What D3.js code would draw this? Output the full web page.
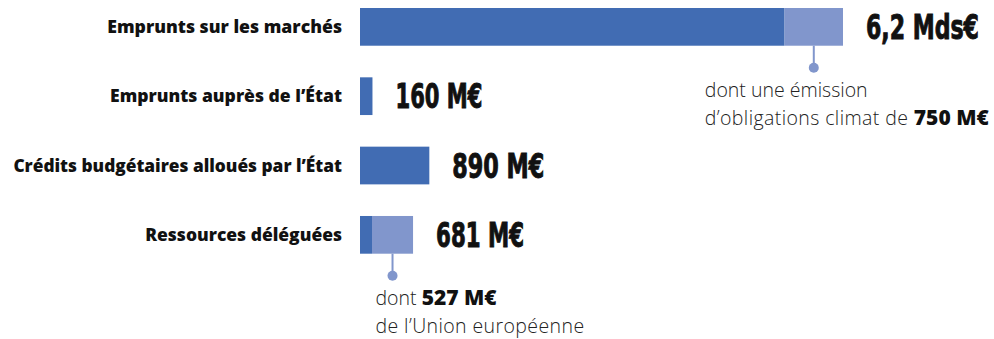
<!DOCTYPE html>
<html>
<head>
<meta charset="utf-8">
<script src="https://cdn.jsdelivr.net/npm/d3@7"></script>
<style>
  html, body { margin: 0; padding: 0; background: #ffffff; }
  svg { display: block; }
</style>
</head>
<body>
<div id="chart"></div>
<script>
// ---- Data ----
const categories = [
  "Emprunts sur les marchés",
  "Emprunts auprès de l’État",
  "Crédits budgétaires alloués par l’État",
  "Ressources déléguées"
];
const totals = [6200, 160, 890, 681];          // M€
const highlighted = [750, 0, 0, 527];          // part highlighted (M€)
const valueLabels = ["6,2 Mds€", "160 M€", "890 M€", "681 M€"];
const noteRows = [0, 3];
const notePrefix = [["dont une émission", "d’obligations climat de "], ["dont ", ""]];
const noteBold = ["750 M€", "527 M€"];
const noteSuffix = [["", ""], ["", "de l’Union européenne"]];

// ---- Layout ----
const W = 994, H = 339;
const dark = "#416cb3", light = "#8196cc";
const catLabelWidth = [235, 232, 329, 197];   // rendered widths of the original typeface
const valLabelWidth = [113, 87, 92, 88];

const svg = d3.select("#chart").append("svg")
  .attr("width", W).attr("height", H);

const x = d3.scaleLinear().domain([0, 6200]).range([360, 843]);
const y = d3.scaleBand().domain(categories).range([8, 253.7])
  .paddingInner(0.456).paddingOuter(0);

const rows = categories.map((c, i) => ({
  cat: c, total: totals[i], hi: highlighted[i], label: valueLabels[i], i
}));

// dark part
svg.append("g").selectAll("rect.dark").data(rows).join("rect")
  .attr("class", "dark")
  .attr("x", x(0))
  .attr("y", d => y(d.cat))
  .attr("width", d => x(d.total - d.hi) - x(0))
  .attr("height", y.bandwidth())
  .attr("fill", dark);

// light (highlighted) part
svg.append("g").selectAll("rect.light").data(rows.filter(d => d.hi > 0)).join("rect")
  .attr("class", "light")
  .attr("x", d => x(d.total - d.hi))
  .attr("y", d => y(d.cat))
  .attr("width", d => x(d.total) - x(d.total - d.hi))
  .attr("height", y.bandwidth())
  .attr("fill", light);

// category labels (condensed to the original widths)
svg.append("g").selectAll("text").data(rows).join("text")
  .attr("text-anchor", "end")
  .attr("font-family", "'Open Sans', sans-serif")
  .attr("font-weight", 800)
  .attr("font-size", 17.5)
  .attr("fill", "#111")
  .text(d => d.cat)
  .each(function(d) {
    const len = this.getComputedTextLength();
    const sx = catLabelWidth[d.i] / len;
    const ty = y(d.cat) + y.bandwidth() / 2 + 6;
    d3.select(this).attr("transform", `translate(${x(0) - 18},${ty}) scale(${sx},1)`);
  });

// value labels (heavy, condensed)
svg.append("g").selectAll("text").data(rows).join("text")
  .attr("font-family", "'DejaVu Sans Condensed', 'DejaVu Sans', sans-serif")
  .attr("font-weight", 700)
  .attr("font-size", 33)
  .attr("fill", "#111")
  .attr("stroke", "#111")
  .attr("stroke-width", 0.9)
  .text(d => d.label)
  .each(function(d) {
    const len = this.getComputedTextLength();
    const sx = valLabelWidth[d.i] / len;
    const ty = y(d.cat) + y.bandwidth() / 2 + 12;
    d3.select(this).attr("transform", `translate(${x(d.total) + 23},${ty}) scale(${sx},1)`);
  });

// annotations
const noteDx = [-109, -17];
noteRows.forEach((ri, k) => {
  const d = rows[ri];
  const cx = (x(d.total - d.hi) + x(d.total)) / 2;
  const barBottom = y(d.cat) + y.bandwidth();
  const dotY = barBottom + 22;
  svg.append("line")
    .attr("x1", cx).attr("x2", cx)
    .attr("y1", barBottom).attr("y2", dotY)
    .attr("stroke", light).attr("stroke-width", 2);
  svg.append("circle")
    .attr("cx", cx).attr("cy", dotY).attr("r", 5)
    .attr("fill", light);
  const t = svg.append("text")
    .attr("font-family", "'Open Sans', sans-serif")
    .attr("font-size", 19.5)
    .attr("fill", "#222");
  const tx = cx + noteDx[k];
  // line 1
  const l1 = t.append("tspan").attr("x", tx).attr("y", dotY + 29.5);
  l1.append("tspan").attr("font-weight", 300).text(notePrefix[k][0]);
  if (k === 1) l1.append("tspan").attr("font-weight", 800).attr("font-size", 21).attr("fill", "#111").text(noteBold[k]);
  // line 2
  const l2 = t.append("tspan").attr("x", tx).attr("y", dotY + 57.5);
  l2.append("tspan").attr("font-weight", 300).attr("letter-spacing", 0.4).text(notePrefix[k][1] + noteSuffix[k][1]);
  if (k === 0) l2.append("tspan").attr("font-weight", 800).attr("font-size", 21).attr("fill", "#111").text(noteBold[k]);
});
</script>
</body>
</html>
